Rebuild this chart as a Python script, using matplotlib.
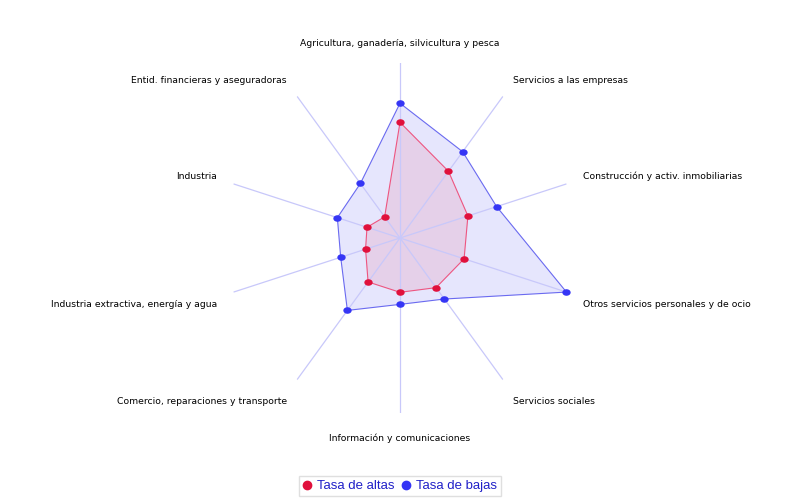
import numpy as np
import matplotlib
matplotlib.use("Agg")
from matplotlib import pyplot as plt
from matplotlib.path import Path
from matplotlib.transforms import Affine2D, offset_copy

categories = [
    "Agricultura, ganadería, silvicultura y pesca",
    "Servicios a las empresas",
    "Construcción y activ. inmobiliarias",
    "Otros servicios personales y de ocio",
    "Servicios sociales",
    "Información y comunicaciones",
    "Comercio, reparaciones y transporte",
    "Industria extractiva, energía y agua",
    "Industria",
    "Entid. financieras y aseguradoras",
]
tasa_altas = [115, 82, 71, 67, 61, 54, 54, 36, 34.5, 26]
tasa_bajas = [134, 106, 101, 174, 75, 66, 89, 62, 65.5, 67]

red = "#e0103c"
blue = "#3535f5"

n = len(categories)
angles = np.arange(n) * 2 * np.pi / n
rmax = max(max(tasa_altas), max(tasa_bajas))

# slightly flattened circle like the original markers
ell = Path.unit_circle().transformed(Affine2D().scale(1.35, 1.0))

fig = plt.figure(figsize=(8, 5), dpi=100)
ax = fig.add_axes([0.28125, 0.174, 0.4375, 0.7], projection="polar")
ax.set_theta_offset(np.pi / 2)
ax.set_theta_direction(-1)
ax.set_ylim(0, rmax)
ax.set_yticks([])
ax.set_xticks([])
ax.grid(False)
ax.spines["polar"].set_visible(False)
ax.patch.set_alpha(0)

for a in angles:
    ax.plot([a, a], [0, rmax], color="#c8c8fa", lw=0.9, zorder=1)

closed = np.append(angles, angles[0])
for vals, col, fcol, falpha, lcol in [
    (tasa_bajas, blue, "#3535f5", 0.12, "#6a6af0"),
    (tasa_altas, red, "#e0103c", 0.10, "#ee5580"),
]:
    v = np.append(vals, vals[0])
    ax.fill(closed, v, color=fcol, alpha=falpha, lw=0, zorder=0)
    ax.plot(closed, v, color=lcol, lw=0.8, zorder=2)
    ax.plot(angles, vals, ls="none", marker=ell, ms=5, color=col,
            mec=col, zorder=3, clip_on=False)

rl = rmax * 1.1
for a, lab in zip(angles, categories):
    deg = np.degrees(a)
    dy = 0
    if np.isclose(deg, 0):
        ha, va = "center", "bottom"
        dy = -3
    elif np.isclose(deg, 180):
        ha, va = "center", "top"
        dy = -3
    elif deg < 180:
        ha = "left"
        va = "center" if deg < 90 else "top"
    else:
        ha = "right"
        va = "center" if deg > 270 else "top"
    if va == "top" and dy == 0:
        dy = -3
    if va == "center":
        dy = 2
    tr = offset_copy(ax.transData, fig=fig, x=0, y=dy, units="dots")
    ax.text(a, rl, lab, ha=ha, va=va, fontsize=6.7, family="DejaVu Sans",
            color="black", transform=tr)

handles = [
    plt.Line2D([], [], ls="none", marker="o", ms=6, color=red),
    plt.Line2D([], [], ls="none", marker="o", ms=6, color=blue),
]
leg = fig.legend(handles, ["Tasa de altas", "Tasa de bajas"], loc="lower center",
                 bbox_to_anchor=(0.5, -0.006), ncol=2, frameon=True, fancybox=False,
                 handlelength=0.6, handletextpad=0.45,
                 columnspacing=0.6, borderpad=0.3,
                 prop={"family": "Liberation Sans", "size": 9.5})
leg.get_frame().set_edgecolor("#d8d8d8")
leg.get_frame().set_linewidth(1)
for t in leg.get_texts():
    t.set_color("#2020c8")

fig.savefig("out.png", dpi=100)
